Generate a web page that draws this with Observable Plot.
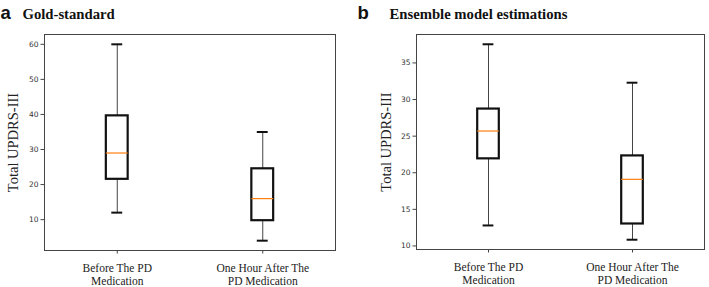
<!DOCTYPE html>
<html><head><meta charset="utf-8">
<script src="https://cdn.jsdelivr.net/npm/d3@7"></script>
<script src="https://cdn.jsdelivr.net/npm/@observablehq/plot@0.6"></script>
<style>
body{margin:0;background:#fff;width:709px;height:287px;overflow:hidden;position:relative}
#a,#b{position:absolute;top:0}
#a{left:0}
#b{left:355px}
svg{overflow:visible}
</style></head><body><div id="a"></div><div id="b"></div>
<script>
// Categories (x tick labels)
const groups = ["Before The PD\nMedication", "One Hour After The\nPD Medication"];
const positions = [1, 2];

// Panel a: Gold-standard box statistics
const goldLow = [12, 4];
const goldQ1 = [21.5, 9.7];
const goldMedian = [29, 16];
const goldQ3 = [39.6, 24.5];
const goldHigh = [60, 35];
const goldTicks = [10, 20, 30, 40, 50, 60];

// Panel b: Ensemble model estimations box statistics
const ensLow = [12.8, 10.85];
const ensQ1 = [21.9, 13.0];
const ensMedian = [25.7, 19.1];
const ensQ3 = [28.7, 22.3];
const ensHigh = [37.55, 32.3];
const ensTicks = [10, 15, 20, 25, 30, 35];

const yLabel = "Total UPDRS-III";

function panel(o) {
  const rows = positions.map((p, i) => ({pos: p, low: o.low[i], q1: o.q1[i], med: o.med[i], q3: o.q3[i], high: o.high[i]}));
  const mn = d3.min(o.low), mx = d3.max(o.high), pad = (mx - mn) * 0.05;
  const hw = 0.075, cw = 0.0375;
  return Plot.plot({
    width: o.width, height: 287,
    marginLeft: o.marginLeft, marginRight: o.marginRight, marginTop: 34, marginBottom: o.marginBottom,
    style: {fontFamily: "DejaVu Sans", background: "transparent"},
    x: {domain: [0.5, 2.5]},
    y: {domain: [mn - pad, mx + pad]},
    marks: [
      Plot.frame({stroke: "#444", strokeWidth: 1}),
      Plot.axisY({ticks: o.ticks, tickSize: 3.5, tickPadding: 2.5, fontSize: 7.5, fill: "#333", stroke: "#444", label: null}),
      Plot.axisX({ticks: positions, tickFormat: d => groups[d - 1], tickSize: 3.5, tickPadding: 9, fontSize: 11.5, fontFamily: "Liberation Serif", fill: "#222", stroke: "#444", lineHeight: 1.13, label: null}),
      Plot.ruleX(rows, {x: "pos", y1: "low", y2: "q1", stroke: "#444", strokeWidth: 1}),
      Plot.ruleX(rows, {x: "pos", y1: "q3", y2: "high", stroke: "#444", strokeWidth: 1}),
      Plot.ruleY(rows, {y: "low", x1: d => d.pos - cw, x2: d => d.pos + cw, stroke: "#111", strokeWidth: 2}),
      Plot.ruleY(rows, {y: "high", x1: d => d.pos - cw, x2: d => d.pos + cw, stroke: "#111", strokeWidth: 2}),
      Plot.rect(rows, {x1: d => d.pos - hw, x2: d => d.pos + hw, y1: "q1", y2: "q3", fill: "none", stroke: "#111", strokeWidth: 2.2}),
      Plot.ruleY(rows, {y: "med", x1: d => d.pos - hw, x2: d => d.pos + hw, stroke: "#ff7f0e", strokeWidth: 1.2}),
      Plot.text([yLabel], {text: d => d, frameAnchor: "left", rotate: -90, dx: o.labelDx, textAnchor: "middle", lineAnchor: "middle", fontFamily: "Liberation Serif", fontSize: 14.5, fill: "#222"}),
      Plot.text([o.letter], {text: d => d, frameAnchor: "top-left", dx: o.letterDx, dy: -16, textAnchor: "start", lineAnchor: "bottom", fontFamily: "Liberation Sans", fontWeight: "bold", fontSize: 18.5, fill: "#111"}),
      Plot.text([o.title], {text: d => d, frameAnchor: "top-left", dx: o.titleDx, dy: -16, textAnchor: "start", lineAnchor: "bottom", fontFamily: "Liberation Serif", fontWeight: "bold", fontSize: 14.7, fill: "#111"})
    ]
  });
}

document.getElementById("a").append(panel({
  letter: "a", title: "Gold-standard",
  low: goldLow, q1: goldQ1, med: goldMedian, q3: goldQ3, high: goldHigh, ticks: goldTicks,
  width: 355, marginLeft: 44, marginRight: 20, marginBottom: 37,
  letterDx: -44, titleDx: -22, labelDx: -31
}));
document.getElementById("b").append(panel({
  letter: "b", title: "Ensemble model estimations",
  low: ensLow, q1: ensQ1, med: ensMedian, q3: ensQ3, high: ensHigh, ticks: ensTicks,
  width: 354, marginLeft: 61, marginRight: 5, marginBottom: 38,
  letterDx: -59, titleDx: -27, labelDx: -30
}));
</script></body></html>
